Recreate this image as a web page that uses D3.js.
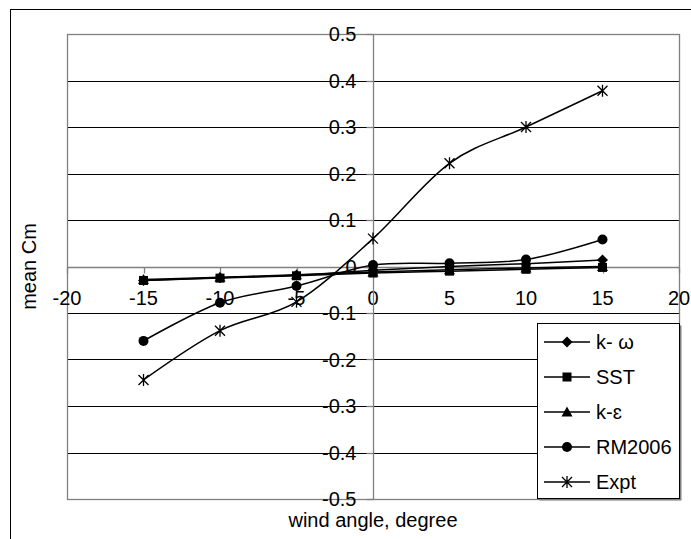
<!DOCTYPE html>
<html>
<head>
<meta charset="utf-8">
<script src="https://cdn.jsdelivr.net/npm/d3@7"></script>
<style>
  body { margin: 0; background: #fff; }
  text { font-family: "Liberation Sans", Arial, sans-serif; fill: #000; }
</style>
</head>
<body>
<svg width="691" height="539"></svg>
<script>
// data
var angles = [-15, -10, -5, 0, 5, 10, 15];
var kOmega = [-0.030, -0.024, -0.019, -0.008, 0.000, 0.006, 0.014];
var sst    = [-0.030, -0.025, -0.020, -0.014, -0.010, -0.006, -0.002];
var kEps   = [-0.028, -0.023, -0.018, -0.012, -0.007, -0.003, 0.000];
var rm2006 = [-0.160, -0.078, -0.042, 0.003, 0.007, 0.015, 0.058];
var expt   = [-0.244, -0.138, -0.076, 0.060, 0.222, 0.300, 0.378];

var seriesNames = ["k- \u03c9", "SST", "k-\u025b", "RM2006", "Expt"];
var seriesValues = [kOmega, sst, kEps, rm2006, expt];
var seriesMarkers = ["diamond", "square", "triangle", "circle", "star"];

var xTicks = [-20, -15, -10, -5, 0, 5, 10, 15, 20];
var yTicks = [-0.5, -0.4, -0.3, -0.2, -0.1, 0, 0.1, 0.2, 0.3, 0.4, 0.5];

var svg = d3.select("svg");

// outer chart frame
svg.append("rect")
    .attr("x", 10.5).attr("y", 9.5)
    .attr("width", 700).attr("height", 560)
    .attr("fill", "none").attr("stroke", "#000").attr("stroke-width", 1);

// plot area
var pLeft = 67, pRight = 679, pTop = 34, pBottom = 499;

var x = d3.scaleLinear().domain([-20, 20]).range([pLeft, pRight]);
var y = d3.scaleLinear().domain([-0.5, 0.5]).range([pBottom, pTop]);

// horizontal gridlines
svg.append("g")
  .selectAll("line")
  .data(yTicks.filter(function(d){ return Math.abs(d) < 0.45 && d !== 0 }))
  .enter()
  .append("line")
    .attr("x1", pLeft).attr("x2", pRight)
    .attr("y1", function(d){ return Math.round(y(d)) + 0.5 })
    .attr("y2", function(d){ return Math.round(y(d)) + 0.5 })
    .attr("stroke", "#000").attr("stroke-width", 1);

// plot area border
svg.append("rect")
    .attr("x", pLeft + 0.5).attr("y", pTop + 0.5)
    .attr("width", pRight - pLeft).attr("height", pBottom - pTop)
    .attr("fill", "none").attr("stroke", "#808080").attr("stroke-width", 1.3);

// x axis at y = 0
var x0 = Math.round(y(0)) + 0.5;
svg.append("line")
    .attr("x1", pLeft).attr("x2", pRight)
    .attr("y1", x0).attr("y2", x0)
    .attr("stroke", "#808080").attr("stroke-width", 1.3);
svg.append("g")
  .selectAll("line")
  .data(xTicks)
  .enter()
  .append("line")
    .attr("x1", function(d){ return Math.round(x(d)) + 0.5 })
    .attr("x2", function(d){ return Math.round(x(d)) + 0.5 })
    .attr("y1", x0).attr("y2", x0 + 6)
    .attr("stroke", "#808080").attr("stroke-width", 1.3);
svg.append("g")
  .selectAll("text")
  .data(xTicks)
  .enter()
  .append("text")
    .attr("x", function(d){ return x(d) })
    .attr("y", x0 + 37)
    .attr("text-anchor", "middle")
    .style("font-size", "20px")
    .text(function(d){ return d });

// y axis at x = 0
var y0 = Math.round(x(0)) + 0.5;
svg.append("line")
    .attr("x1", y0).attr("x2", y0)
    .attr("y1", pTop).attr("y2", pBottom)
    .attr("stroke", "#808080").attr("stroke-width", 1.3);
svg.append("g")
  .selectAll("line")
  .data(yTicks)
  .enter()
  .append("line")
    .attr("x1", y0 - 7).attr("x2", y0)
    .attr("y1", function(d){ return Math.round(y(d)) + 0.5 })
    .attr("y2", function(d){ return Math.round(y(d)) + 0.5 })
    .attr("stroke", "#808080").attr("stroke-width", 1.3);
svg.append("g")
  .selectAll("text")
  .data(yTicks)
  .enter()
  .append("text")
    .attr("x", y0 - 17)
    .attr("y", function(d){ return y(d) + 7 })
    .attr("text-anchor", "end")
    .style("font-size", "20px")
    .text(function(d){ return d === 0 ? "0" : d3.format(".1f")(d).replace("\u2212", "-") });

// axis titles
svg.append("text")
    .attr("transform", "translate(36," + ((pTop + pBottom) / 2) + ") rotate(-90)")
    .attr("text-anchor", "middle")
    .style("font-size", "20px")
    .text("mean Cm");
svg.append("text")
    .attr("x", (pLeft + pRight) / 2).attr("y", 527)
    .attr("text-anchor", "middle")
    .style("font-size", "20px")
    .text("wind angle, degree");

// marker shapes
function marker(g, type) {
  if (type === "diamond") {
    g.append("path").attr("d", "M0,-5.5L5.5,0L0,5.5L-5.5,0Z").attr("fill", "#000");
  } else if (type === "square") {
    g.append("rect").attr("x", -4.5).attr("y", -4.5).attr("width", 9).attr("height", 9).attr("fill", "#000");
  } else if (type === "triangle") {
    g.append("path").attr("d", "M0,-5.5L5.5,4.5L-5.5,4.5Z").attr("fill", "#000");
  } else if (type === "circle") {
    g.append("circle").attr("r", 5).attr("fill", "#000");
  } else {
    g.append("path").attr("d", "M0,-6V6M-5,-5L5,5M-5,5L5,-5")
      .attr("stroke", "#000").attr("stroke-width", 1.3).attr("fill", "none");
  }
}

var line = d3.line()
    .x(function(d){ return x(d[0]) })
    .y(function(d){ return y(d[1]) })
    .curve(d3.curveCardinal.tension(0));

seriesValues.forEach(function(vals, i) {
  var pts = angles.map(function(a, j){ return [a, vals[j]] });
  svg.append("path")
      .datum(pts)
      .attr("d", line)
      .attr("fill", "none")
      .attr("stroke", "#000")
      .attr("stroke-width", 1.5);
  pts.forEach(function(p) {
    var g = svg.append("g").attr("transform", "translate(" + x(p[0]) + "," + y(p[1]) + ")");
    marker(g, seriesMarkers[i]);
  });
});

// legend
var lg = svg.append("g");
lg.append("rect")
    .attr("x", 539.5).attr("y", 325.5).attr("width", 142).attr("height", 175)
    .attr("fill", "#808080");
lg.append("rect")
    .attr("x", 537.5).attr("y", 323.5).attr("width", 142).attr("height", 175)
    .attr("fill", "#fff").attr("stroke", "#000").attr("stroke-width", 1);

seriesNames.forEach(function(name, i) {
  var ly = 342 + i * 35;
  lg.append("line")
      .attr("x1", 544).attr("x2", 590)
      .attr("y1", ly).attr("y2", ly)
      .attr("stroke", "#000").attr("stroke-width", 1.5);
  marker(lg.append("g").attr("transform", "translate(567," + ly + ")"), seriesMarkers[i]);
  lg.append("text")
      .attr("x", 596).attr("y", ly + 7)
      .style("font-size", "20px")
      .text(name);
});
</script>
</body>
</html>
